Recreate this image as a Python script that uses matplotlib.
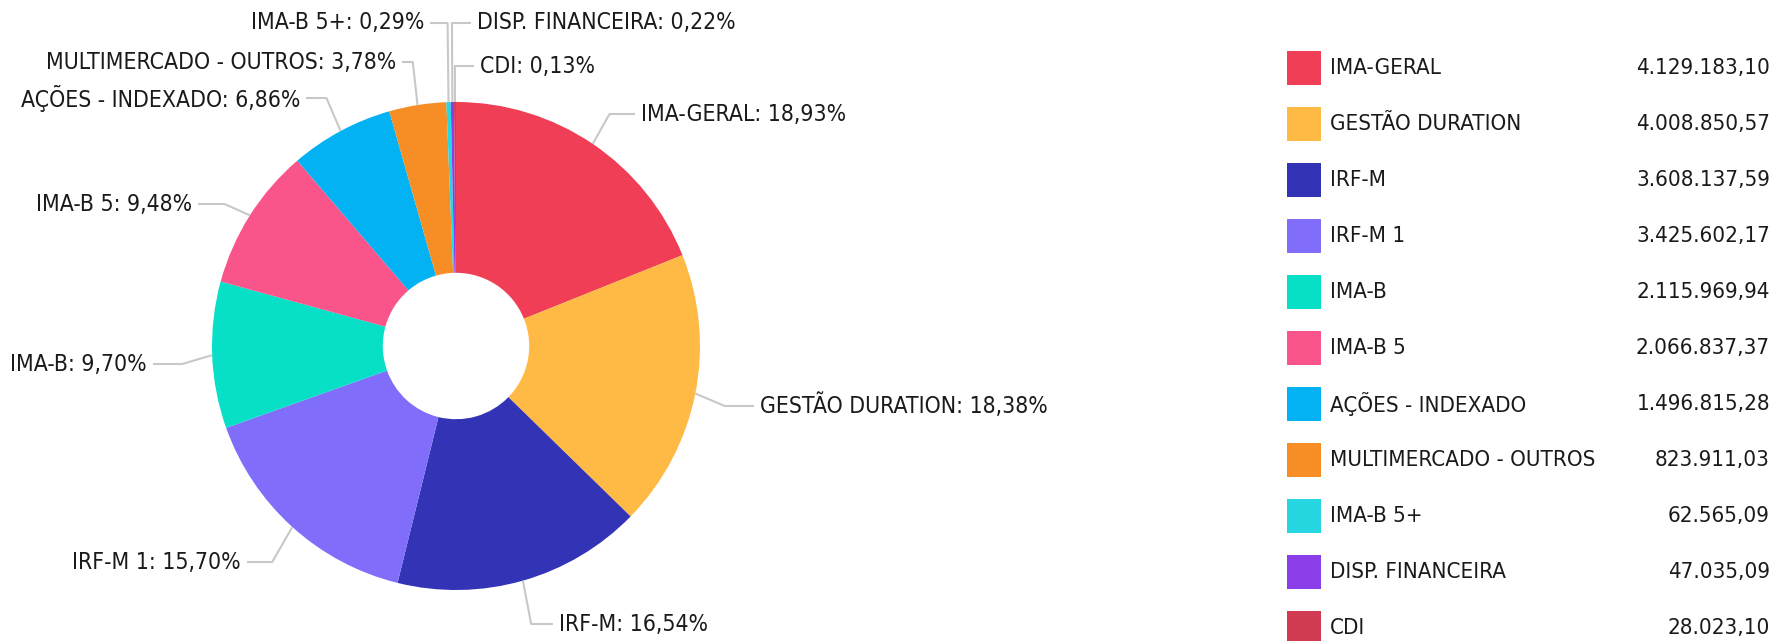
import numpy as np
import matplotlib.pyplot as plt
from matplotlib.patches import Rectangle
from matplotlib import font_manager

categories = ['IMA-GERAL', 'GESTÃO DURATION', 'IRF-M', 'IRF-M 1', 'IMA-B', 'IMA-B 5',
              'AÇÕES - INDEXADO', 'MULTIMERCADO - OUTROS', 'IMA-B 5+', 'DISP. FINANCEIRA', 'CDI']
values = [4129183.10, 4008850.57, 3608137.59, 3425602.17, 2115969.94, 2066837.37,
          1496815.28, 823911.03, 62565.09, 47035.09, 28023.10]
colors = ['#EF3E55', '#FFBA45', '#3333B5', '#806EFB', '#08DFC7', '#F9558B',
          '#03B2F3', '#F68D25', '#26D7E2', '#8C3FE8', '#D03B52']

# label anchor points (pixels, y down) and side
label_pos = [(641, 114, 'l'), (760, 406, 'l'), (559, 624, 'l'), (241, 562, 'r'),
             (147, 364, 'r'), (192, 204, 'r'), (300, 98, 'r'), (396, 62, 'r'),
             (424, 23, 'r'), (477, 23, 'l'), (480, 66, 'l')]

fonts = font_manager.fontManager.ttflist
has_cond = any(f.name == 'DejaVu Sans' and 'condensed' in str(f.stretch) for f in fonts)
print('condensed:', has_cond, sorted({f.name for f in fonts}))
if has_cond:
    plt.rcParams['font.family'] = ['DejaVu Sans']
    plt.rcParams['font.stretch'] = 'condensed'
    fs = 16.5
else:
    plt.rcParams['font.family'] = ['Roboto', 'DejaVu Sans']
    fs = 16.5


def br(v, d=2):
    s = f'{v:,.{d}f}'
    return s.replace(',', '#').replace('.', ',').replace('#', '.')


W, H = 1774, 641
fig = plt.figure(figsize=(W / 100, H / 100), dpi=100)
ax = fig.add_axes([0, 0, 1, 1])

cx, cy, R = 456, 346, 244
ax.pie(values, colors=colors, startangle=-90, counterclock=True, center=(cx, cy), radius=R,
       wedgeprops=dict(width=R * 0.70, linewidth=0), frame=True)
ax.set_xlim(0, W)
ax.set_ylim(H, 0)
ax.axis('off')

total = sum(values)
cum = np.cumsum([0] + values[:-1])
line_c = '#C8C8C8'
for i, (name, v) in enumerate(zip(categories, values)):
    th = np.deg2rad(-90 + 360 * (cum[i] + v / 2) / total)
    ex, ey = cx + R * np.cos(th), cy + R * np.sin(th)
    bx = cx + (R + 30) * np.cos(th)
    tx, ty, side = label_pos[i]
    endx = tx - 6 if side == 'l' else tx + 6
    ax.plot([ex, bx, endx], [ey, ty, ty], color=line_c, lw=1.5, solid_capstyle='butt', zorder=1)
    pct = br(100 * v / total)
    ax.text(tx, ty, f'{name}: {pct}%', ha='left' if side == 'l' else 'right', va='center',
            fontsize=fs, color='#1a1a1a')

# legend
row0, step = 68, 56
for i, (name, v, c) in enumerate(zip(categories, values, colors)):
    y = row0 + i * step
    ax.add_patch(Rectangle((1287, y - 17), 34, 34, facecolor=c, edgecolor='none', clip_on=False))
    ax.text(1330, y, name, ha='left', va='center', fontsize=fs - 0.5, color='#1a1a1a')
    ax.text(1770, y, br(v), ha='right', va='center', fontsize=fs - 0.5, color='#1a1a1a')

fig.savefig('out.png', dpi=100)
